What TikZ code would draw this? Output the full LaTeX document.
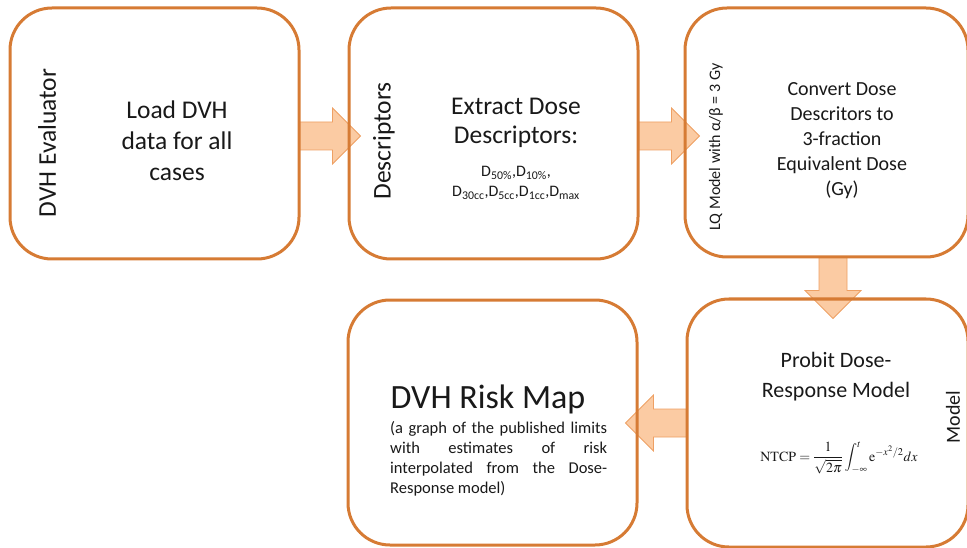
\documentclass[tikz,border=0pt]{standalone}
\usepackage{mathptmx}
\usepackage[no-math]{fontspec}
\setmainfont{Carlito}
\usetikzlibrary{calc,backgrounds}
\definecolor{boxedge}{RGB}{214,123,52}
\definecolor{arrfill}{RGB}{251,203,163}
\definecolor{arredge}{RGB}{238,160,100}
\definecolor{ink}{RGB}{25,25,25}
\begin{document}
\begin{tikzpicture}[x=1pt,y=-1pt,
  stepbox/.style={draw=boxedge,line width=3pt,rounded corners=42pt,inner sep=0pt},
  lbl/.style={text=ink,inner sep=0pt,align=center},
  barrowstyle/.style={fill=arrfill,draw=arredge,line width=0.8pt,line join=miter},
  pics/blockarrow/.style={code={\draw[barrowstyle] (0,-14) -- (33,-14) -- (33,-28) -- (61,0) -- (33,28) -- (33,14) -- (0,14) -- cycle;}}
]
\useasboundingbox (0,0) rectangle (967,548);
% boxes
\node[stepbox,minimum width=289pt,minimum height=251pt] (b1) at (154.5,133.5) {};
\node[stepbox,minimum width=289pt,minimum height=251pt] (b2) at (493.5,133.5) {};
\node[stepbox,minimum width=283pt,minimum height=249pt] (b3) at (826.5,132.5) {};
\node[stepbox,minimum width=281pt,minimum height=248pt] (b4) at (827.5,423) {};
\node[stepbox,minimum width=289pt,minimum height=245pt] (b5) at (492.5,422.5) {};
% block arrows (behind the boxes)
\begin{scope}[on background layer]
\pic at ($(b1.east)+(-1,2.5)$) {blockarrow};
\pic at ($(b2.east)+(-1,2.5)$) {blockarrow};
\pic[rotate=-90] at ($(b3.south)+(6.5,-1)$) {blockarrow};
\pic[rotate=180] at ($(b4.west)+(1,0)$) {blockarrow};
\end{scope}
% texts
\node[lbl,rotate=90,font=\fontsize{25.5}{31}\selectfont] (t1a) at (47,143) {DVH Evaluator};
\node[lbl,font=\fontsize{25.5}{31}\selectfont] (t1b) at (177,141) {Load DVH\\data for all\\cases};
\node[lbl,rotate=90,font=\fontsize{25.5}{31}\selectfont] (t2a) at (384,141) {Descriptors};
\node[lbl,font=\fontsize{25.5}{29.5}\selectfont] (t2b) at (516,123) {Extract Dose\\Descriptors:};
\node[lbl,font=\fontsize{16}{20}\selectfont] (t2c) at (516,183) {D\textsubscript{50\%},D\textsubscript{10\%},\\D\textsubscript{30cc},D\textsubscript{5cc},D\textsubscript{1cc},D\textsubscript{max}};
\node[lbl,rotate=90,font=\fontsize{16}{19}\selectfont] (t3a) at (716,147) {LQ Model with α/β = 3 Gy};
\node[lbl,font=\fontsize{20}{25}\selectfont] (t3b) at (842,141) {Convert Dose\\Descritors to\\3-fraction\\Equivalent Dose\\(Gy)};
\node[lbl,font=\fontsize{22}{30}\selectfont] (t4a) at (836,377) {Probit Dose-\\Response Model};
\node[lbl,font=\fontsize{14}{16}\selectfont] (t4b) at (839,458) {$\displaystyle\mathrm{NTCP}=\frac{1}{\sqrt{2\pi}}\int_{-\infty}^{t}\mathrm{e}^{-x^2/2}dx$};
\node[lbl,rotate=90,font=\fontsize{20}{24}\selectfont] (t4c) at (953,417) {Model};
\node[lbl,font=\fontsize{34}{40}\selectfont,anchor=base] (t5a) at (488,408) {DVH Risk Map};
\node[lbl,font=\fontsize{16.5}{20}\selectfont,text width=217pt,align=justify,anchor=north west] (t5b) at (390,421) {\noindent(a graph of the published limits\linebreak with estimates of risk\linebreak interpolated from the Dose-\linebreak Response model)};
\end{tikzpicture}
\end{document}
